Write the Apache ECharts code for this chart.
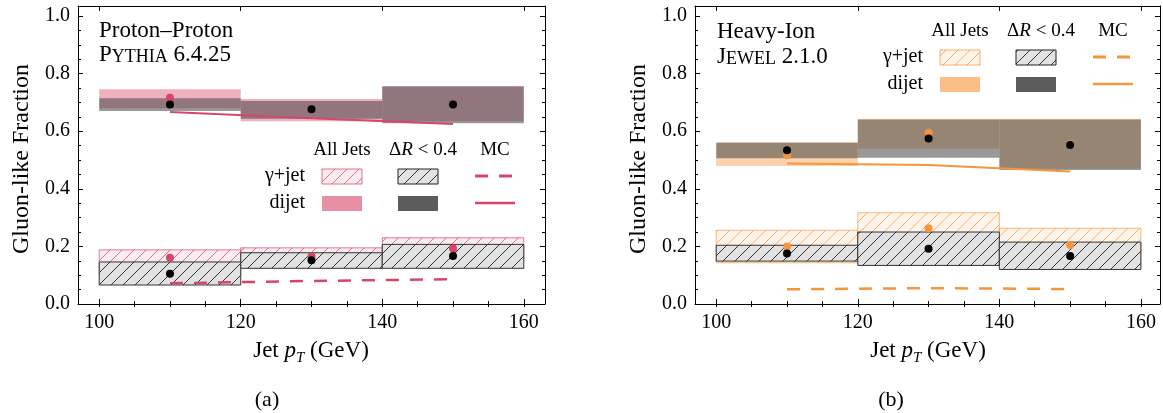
<!DOCTYPE html>
<html>
<head>
<meta charset="utf-8">
<script src="https://cdn.jsdelivr.net/npm/echarts@6/dist/echarts.min.js"></script>
<style>
  html, body { margin: 0; background: #fff; }
  #chart { width: 1163px; height: 413px; }
</style>
</head>
<body>
<div id="chart"></div>
<script>
// bins and ticks
const binEdges = [100, 120, 140, 160];
const binCenters = [110, 130, 150];
const xTicks = [100, 120, 140, 160];
const xMinorTicks = [100, 105, 110, 115, 120, 125, 130, 135, 140, 145, 150, 155, 160];
const yTicks = [0, 0.2, 0.4, 0.6, 0.8, 1.0];
const yMinorTicks = [0, 0.05, 0.1, 0.15, 0.2, 0.25, 0.3, 0.35, 0.4, 0.45, 0.5, 0.55, 0.6, 0.65, 0.7, 0.75, 0.8, 0.85, 0.9, 0.95, 1.0];

// (a) proton-proton, bands are [low, high] per bin
const ppDijetAll = [[0.680, 0.746], [0.635, 0.712], [0.635, 0.757]];
const ppDijetDR = [[0.670, 0.715], [0.643, 0.705], [0.628, 0.755]];
const ppGjAll = [[0.100, 0.188], [0.140, 0.195], [0.150, 0.230]];
const ppGjDR = [[0.066, 0.146], [0.124, 0.178], [0.124, 0.207]];
const ppDijetAllPts = [0.716, 0.678, 0.695];
const ppDijetDRPts = [0.693, 0.676, 0.693];
const ppGjAllPts = [0.161, 0.166, 0.193];
const ppGjDRPts = [0.105, 0.152, 0.167];
const ppMcDijet = [0.667, 0.645, 0.625];
const ppMcGj = [0.072, 0.080, 0.086];

// (b) heavy-ion
const hiDijetAll = [[0.479, 0.562], [0.539, 0.643], [0.470, 0.643]];
const hiDijetDR = [[0.506, 0.560], [0.508, 0.641], [0.465, 0.641]];
const hiGjAll = [[0.143, 0.256], [0.150, 0.317], [0.130, 0.263]];
const hiGjDR = [[0.149, 0.204], [0.134, 0.250], [0.120, 0.215]];
const hiDijetAllPts = [0.517, 0.595, 0.555];
const hiDijetDRPts = [0.534, 0.575, 0.552];
const hiGjAllPts = [0.200, 0.263, 0.205];
const hiGjDRPts = [0.175, 0.192, 0.167];
const hiMcDijet = [0.488, 0.483, 0.460];
const hiMcGj = [0.051, 0.055, 0.052];

const FONT = 'Liberation Serif';
const PINK = '#d6466a';
const ORANGE = '#f5963c';

function makeHatch(color) {
  const c = document.createElement('canvas');
  c.width = 12; c.height = 12;
  const ctx = c.getContext('2d');
  ctx.strokeStyle = color;
  ctx.lineWidth = 1;
  ctx.beginPath();
  ctx.moveTo(-1, 13); ctx.lineTo(13, -1);
  ctx.moveTo(-7, 7); ctx.lineTo(7, -7);
  ctx.moveTo(5, 19); ctx.lineTo(19, 5);
  ctx.stroke();
  return c;
}
const hatchPink = makeHatch('rgba(214,70,106,0.75)');
const hatchOrange = makeHatch('rgba(245,150,60,0.75)');
const hatchGray = makeHatch('#333');

function bandData(bands) {
  return bands.map((b, i) => [binEdges[i], binEdges[i + 1], b[0], b[1]]);
}

function bandSeries(ax, bands, fill, hatch, stroke) {
  return {
    type: 'custom', xAxisIndex: ax, yAxisIndex: ax, silent: true,
    encode: { x: [0, 1], y: [2, 3] },
    data: bandData(bands),
    renderItem: function (params, api) {
      const a = api.coord([api.value(0), api.value(3)]);
      const b = api.coord([api.value(1), api.value(2)]);
      const shape = { x: a[0], y: a[1], width: b[0] - a[0], height: b[1] - a[1] };
      const kids = [{ type: 'rect', shape: shape, style: { fill: fill } }];
      if (hatch) {
        kids.push({ type: 'rect', shape: shape, style: { fill: { image: hatch, repeat: 'repeat' }, stroke: stroke, lineWidth: 1 } });
      }
      return { type: 'group', children: kids };
    }
  };
}

function lineSeries(ax, vals, color, dashed) {
  return {
    type: 'line', xAxisIndex: ax, yAxisIndex: ax, silent: true, showSymbol: false,
    data: binCenters.map((x, i) => [x, vals[i]]),
    lineStyle: { color: color, width: dashed ? 2.5 : 2, type: dashed ? [13, 11] : 'solid' }
  };
}

function dotSeries(ax, vals, color) {
  return {
    type: 'scatter', xAxisIndex: ax, yAxisIndex: ax, silent: true, symbolSize: 8,
    data: binCenters.map((x, i) => [x, vals[i]]),
    itemStyle: { color: color, opacity: 1 }
  };
}

function panel(ax, d, col, hatch, allFill, edge) {
  return [
    bandSeries(ax, d.dijetAll, allFill, null),
    bandSeries(ax, d.dijetDR, 'rgba(70,70,70,0.55)', null),
    bandSeries(ax, d.gjAll, edge.light, hatch, edge.line),
    bandSeries(ax, d.gjDR, '#e2e2e2', hatchGray, '#333'),
    lineSeries(ax, d.mcDijet, col, false),
    lineSeries(ax, d.mcGj, col, true),
    dotSeries(ax, d.dijetAllPts, col),
    dotSeries(ax, d.gjAllPts, col),
    dotSeries(ax, d.dijetDRPts, '#000'),
    dotSeries(ax, d.gjDRPts, '#000')
  ];
}

const spine = { show: true, onZero: false, lineStyle: { color: '#000', width: 1 } };
function xAxes(grid) {
  const base = { gridIndex: grid, type: 'value', min: 97, max: grid ? 162.7 : 163, splitLine: { show: false } };
  const major = { show: true, inside: true, length: 5, customValues: xTicks, lineStyle: { color: '#000' } };
  const minor = { show: true, inside: true, length: 3, customValues: xMinorTicks, lineStyle: { color: '#000' } };
  return [
    Object.assign({}, base, { position: 'bottom', axisLine: spine, axisTick: major,
      axisLabel: { show: true, customValues: xTicks, margin: 9, fontSize: 20, fontFamily: FONT, color: '#000' } }),
    Object.assign({}, base, { position: 'bottom', axisLine: { show: false }, axisTick: minor, axisLabel: { show: false } }),
    Object.assign({}, base, { position: 'top', axisLine: spine, axisTick: major, axisLabel: { show: false } }),
    Object.assign({}, base, { position: 'top', axisLine: { show: false }, axisTick: minor, axisLabel: { show: false } })
  ];
}
function yAxes(grid) {
  const base = { gridIndex: grid, type: 'value', min: 0, max: 1.035, splitLine: { show: false } };
  const major = { show: true, inside: true, length: 5, customValues: yTicks, lineStyle: { color: '#000' } };
  const minor = { show: true, inside: true, length: 3, customValues: yMinorTicks, lineStyle: { color: '#000' } };
  return [
    Object.assign({}, base, { position: 'left', axisLine: spine, axisTick: major,
      axisLabel: { show: true, customValues: yTicks, margin: 8, fontSize: 20, fontFamily: FONT, color: '#000',
        formatter: v => v.toFixed(1) } }),
    Object.assign({}, base, { position: 'left', axisLine: { show: false }, axisTick: minor, axisLabel: { show: false } }),
    Object.assign({}, base, { position: 'right', axisLine: spine, axisTick: major, axisLabel: { show: false } }),
    Object.assign({}, base, { position: 'right', axisLine: { show: false }, axisTick: minor, axisLabel: { show: false } })
  ];
}

function txt(x, y, text, size, align, extra) {
  return {
    type: 'text', x: x, y: y, silent: true,
    style: Object.assign({ text: text, fontSize: size, fontFamily: FONT, fill: '#000',
      align: align, verticalAlign: 'middle', textAlign: align, textVerticalAlign: 'middle' }, extra || {})
  };
}
function rect(x, y, w, h, style) {
  return { type: 'rect', silent: true, shape: { x: x, y: y, width: w, height: h }, style: style };
}
function seg(x1, x2, y, color, dashed) {
  return { type: 'line', silent: true, shape: { x1: x1, y1: y, x2: x2, y2: y },
    style: { stroke: color, lineWidth: dashed ? 3 : 2.5, lineDash: dashed ? [13, 11] : null } };
}

const deltaR = '{n|Δ}{i|R}{n| < 0.4}';
const deltaRRich = { n: { fontSize: 19, fontFamily: FONT }, i: { fontSize: 19, fontFamily: FONT, fontStyle: 'italic' } };

function legend(lx, ty, col, hatch, light, edge, solid) {
  // lx: right edge of row labels, ty: header line y
  const r1 = ty + 26, r2 = ty + 53;
  const c1 = lx + 17, c2 = lx + 93, c3 = lx + 170;
  return [
    txt(c1 + 20, ty, 'All Jets', 19, 'center'),
    txt(c2 + 25, ty, deltaR, 19, 'center', { rich: deltaRRich }),
    txt(c3 + 20, ty, 'MC', 19, 'center'),
    txt(lx, r1, 'γ+jet', 20, 'right'),
    txt(lx, r2, 'dijet', 20, 'right'),
    rect(c1, r1 - 7, 40, 15, { fill: light }),
    rect(c1, r1 - 7, 40, 15, { fill: { image: hatch, repeat: 'repeat' }, stroke: edge, lineWidth: 1 }),
    rect(c2, r1 - 7, 40, 15, { fill: '#e2e2e2' }),
    rect(c2, r1 - 7, 40, 15, { fill: { image: hatchGray, repeat: 'repeat' }, stroke: '#222', lineWidth: 1 }),
    seg(c3, c3 + 38, r1, col, true),
    rect(c1, r2 - 7, 40, 15, { fill: solid }),
    rect(c2, r2 - 7, 40, 15, { fill: '#5c5c5c' }),
    seg(c3, c3 + 40, r2, col, false)
  ];
}

function xTitle(cx) {
  return txt(cx, 351, '{a|Jet }{i|p}{s|T}{a| (GeV)}', 23, 'center', {
    rich: {
      a: { fontSize: 23, fontFamily: FONT, lineHeight: 30, verticalAlign: 'middle' },
      i: { fontSize: 23, fontFamily: FONT, fontStyle: 'italic', lineHeight: 30, verticalAlign: 'middle' },
      s: { fontSize: 15, fontFamily: FONT, fontStyle: 'italic', lineHeight: 15, verticalAlign: 'bottom' }
    }
  });
}
function yTitle(cx) {
  const t = txt(cx, 159, 'Gluon-like Fraction', 24, 'center');
  t.rotation = Math.PI / 2;
  return t;
}
const capsRich = {
  a: { fontSize: 23, fontFamily: FONT, lineHeight: 23, verticalAlign: 'bottom' },
  b: { fontSize: 18, fontFamily: FONT, lineHeight: 23, verticalAlign: 'bottom' }
};

const pp = { dijetAll: ppDijetAll, dijetDR: ppDijetDR, gjAll: ppGjAll, gjDR: ppGjDR,
  dijetAllPts: ppDijetAllPts, dijetDRPts: ppDijetDRPts, gjAllPts: ppGjAllPts, gjDRPts: ppGjDRPts,
  mcDijet: ppMcDijet, mcGj: ppMcGj };
const hi = { dijetAll: hiDijetAll, dijetDR: hiDijetDR, gjAll: hiGjAll, gjDR: hiGjDR,
  dijetAllPts: hiDijetAllPts, dijetDRPts: hiDijetDRPts, gjAllPts: hiGjAllPts, gjDRPts: hiGjDRPts,
  mcDijet: hiMcDijet, mcGj: hiMcGj };

const chart = echarts.init(document.getElementById('chart'));
chart.setOption({
  animation: false,
  backgroundColor: '#fff',
  grid: [
    { left: 78, top: 6, width: 467, height: 298 },
    { left: 695, top: 6, width: 465, height: 298 }
  ],
  xAxis: xAxes(0).concat(xAxes(1)),
  yAxis: yAxes(0).concat(yAxes(1)),
  series: panel(0, pp, PINK, hatchPink, 'rgba(214,70,106,0.42)', { light: 'rgba(214,70,106,0.1)', line: 'rgba(214,70,106,0.7)' })
    .concat(panel(4, hi, ORANGE, hatchOrange, 'rgba(245,150,60,0.43)', { light: 'rgba(245,150,60,0.1)', line: 'rgba(245,150,60,0.65)' })),
  graphic: [
    txt(99, 31, 'Proton–Proton', 23, 'left'),
    txt(99, 55, '{a|P}{b|YTHIA}{a| 6.4.25}', 23, 'left', { rich: capsRich }),
    txt(717, 32, 'Heavy-Ion', 23, 'left'),
    txt(717, 57, '{a|J}{b|EWEL}{a| 2.1.0}', 23, 'left', { rich: capsRich }),
    xTitle(311), xTitle(928),
    yTitle(22), yTitle(639),
    txt(267, 400, '(a)', 22, 'center'),
    txt(891, 400, '(b)', 22, 'center')
  ].concat(
    legend(305, 150, PINK, hatchPink, 'rgba(214,70,106,0.1)', 'rgba(214,70,106,0.75)', '#e68ea3'),
    legend(923, 31, ORANGE, hatchOrange, 'rgba(245,150,60,0.1)', 'rgba(245,150,60,0.75)', '#f9bd85')
  )
});
</script>
</body>
</html>
